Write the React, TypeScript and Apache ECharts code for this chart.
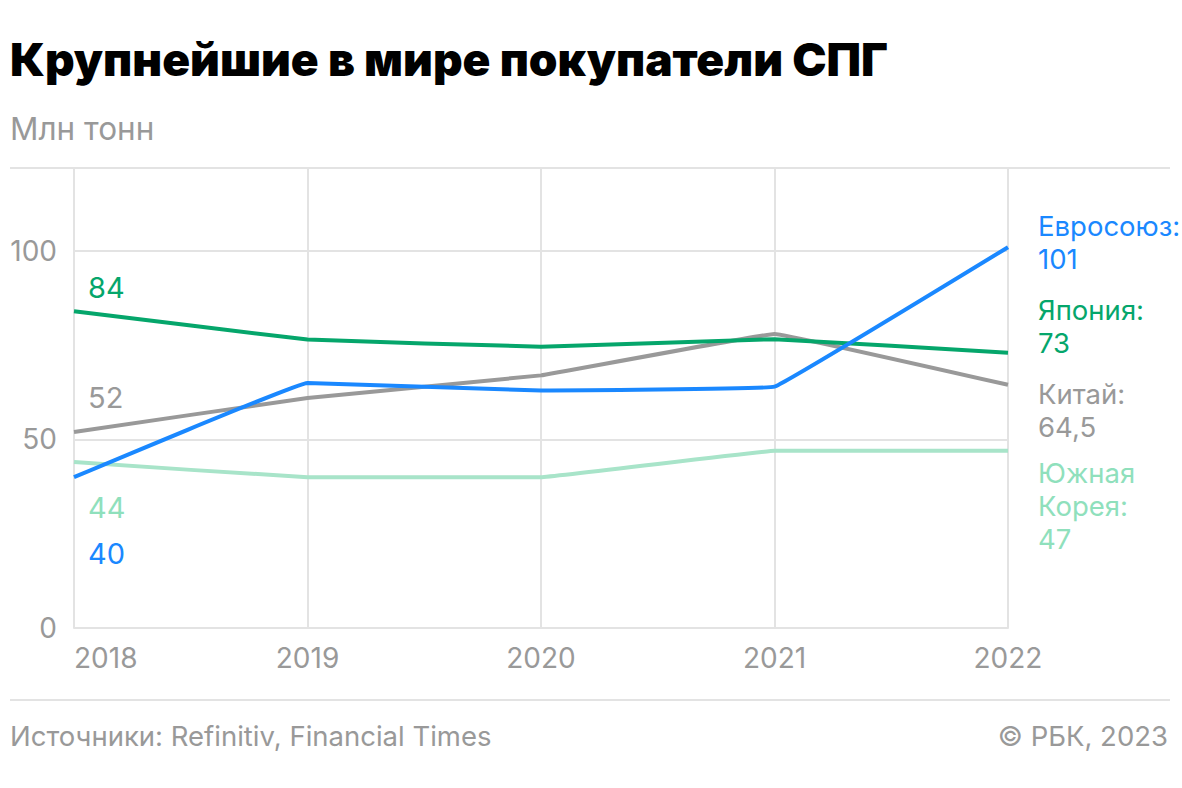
import React from "react";
import * as echarts from "echarts";

const years = ["2018", "2019", "2020", "2021", "2022"];
const euValues = [40, 65, 63, 64, 101];
const japanValues = [84, 76.5, 74.6, 76.6, 73];
const chinaValues = [52, 61, 67, 78, 64.5];
const koreaValues = [44, 40, 40, 47, 47];

const seriesNames = ["Евросоюз", "Япония", "Китай", "Южная\nКорея"];
const lineColors = ["#1a88ff", "#05a66b", "#999999", "#a8e4c9"];
const textColors = ["#1a88ff", "#05a66b", "#999999", "#8fe0bc"];

const yTicks = [0, 50, 100];

const FONT = "Inter, Roboto, sans-serif";

const fmt = (v: number) => String(v).replace(".", ",");

export default function App() {
  const chartRef = React.useRef<HTMLDivElement>(null);

  React.useEffect(() => {
    document.body.style.margin = "0";
    if (!chartRef.current) return;
    const chart = echarts.init(chartRef.current, undefined, { renderer: "svg" });
    const allValues = [euValues, japanValues, chinaValues, koreaValues];

    // labels at the left start and right end of the lines
    const startLabels = [
      { i: 1, y: 287 },
      { i: 2, y: 397 },
      { i: 3, y: 507 },
      { i: 0, y: 553 },
    ];
    const endLabels = [
      { i: 0, y: 242 },
      { i: 1, y: 326 },
      { i: 2, y: 410 },
      { i: 3, y: 506 },
    ];

    chart.setOption({
      animation: false,
      textStyle: { fontFamily: FONT },
      grid: { left: 74, right: 174, top: 168, bottom: 160 },
      xAxis: {
        type: "category",
        data: years,
        boundaryGap: false,
        axisLine: { show: true, lineStyle: { color: "#e3e3e3", width: 2 } },
        axisTick: { show: false },
        splitLine: { show: true, lineStyle: { color: "#e3e3e3", width: 2 } },
        axisLabel: {
          color: "#999999",
          fontSize: 28,
          margin: 16,
          fontFamily: FONT,
          alignMinLabel: "left",
        },
      },
      yAxis: {
        type: "value",
        min: yTicks[0],
        max: 122,
        interval: yTicks[1] - yTicks[0],
        axisLine: { show: false },
        axisTick: { show: false },
        splitLine: { show: true, lineStyle: { color: "#e3e3e3", width: 2 } },
        axisLabel: {
          color: "#999999",
          fontSize: 28,
          margin: 17,
          fontFamily: FONT,
          showMaxLabel: false,
        },
      },
      series: allValues
        .map((vals, i) => ({
          name: seriesNames[i],
          type: "line",
          data: vals,
          smooth: 0.04,
          symbol: "none",
          lineStyle: { color: lineColors[i], width: 4 },
          z: 10 - i,
        }))
        .reverse(),
      graphic: [
        {
          type: "text",
          left: 10,
          top: 36,
          style: {
            text: "Крупнейшие в мире покупатели СПГ",
            fontSize: 46,
            fontWeight: 900,
            fontFamily: FONT,
            fill: "#000000",
          },
        },
        {
          type: "text",
          left: 10,
          top: 112,
          style: { text: "Млн тонн", fontSize: 31.5, fontFamily: FONT, fill: "#999999" },
        },
        {
          type: "line",
          shape: { x1: 10, y1: 168, x2: 1170, y2: 168 },
          style: { stroke: "#e3e3e3", lineWidth: 2 },
        },
        {
          type: "line",
          shape: { x1: 10, y1: 700, x2: 1170, y2: 700 },
          style: { stroke: "#e3e3e3", lineWidth: 2 },
        },
        {
          type: "text",
          left: 10,
          top: 722,
          style: {
            text: "Источники: Refinitiv, Financial Times",
            fontSize: 27.5,
            fontFamily: FONT,
            fill: "#999999",
          },
        },
        {
          type: "text",
          right: 14,
          top: 722,
          style: { text: "© РБК, 2023", fontSize: 27.5, fontFamily: FONT, fill: "#999999" },
        },
        ...startLabels.map(({ i, y }) => ({
          type: "text",
          x: 88,
          y,
          style: {
            text: fmt(allValues[i][0]),
            fontSize: 29,
            fontFamily: FONT,
            fill: textColors[i],
            verticalAlign: "middle",
          },
        })),
        ...endLabels.map(({ i, y }) => ({
          type: "text",
          x: 1038,
          y,
          style: {
            text: seriesNames[i] + ":\n" + fmt(allValues[i][allValues[i].length - 1]),
            fontSize: 27.5,
            lineHeight: 33,
            fontFamily: FONT,
            fill: textColors[i],
            verticalAlign: "middle",
          },
        })),
      ],
    });

    return () => {
      chart.dispose();
    };
  }, []);

  return <div ref={chartRef} style={{ width: 1182, height: 788 }} />;
}
